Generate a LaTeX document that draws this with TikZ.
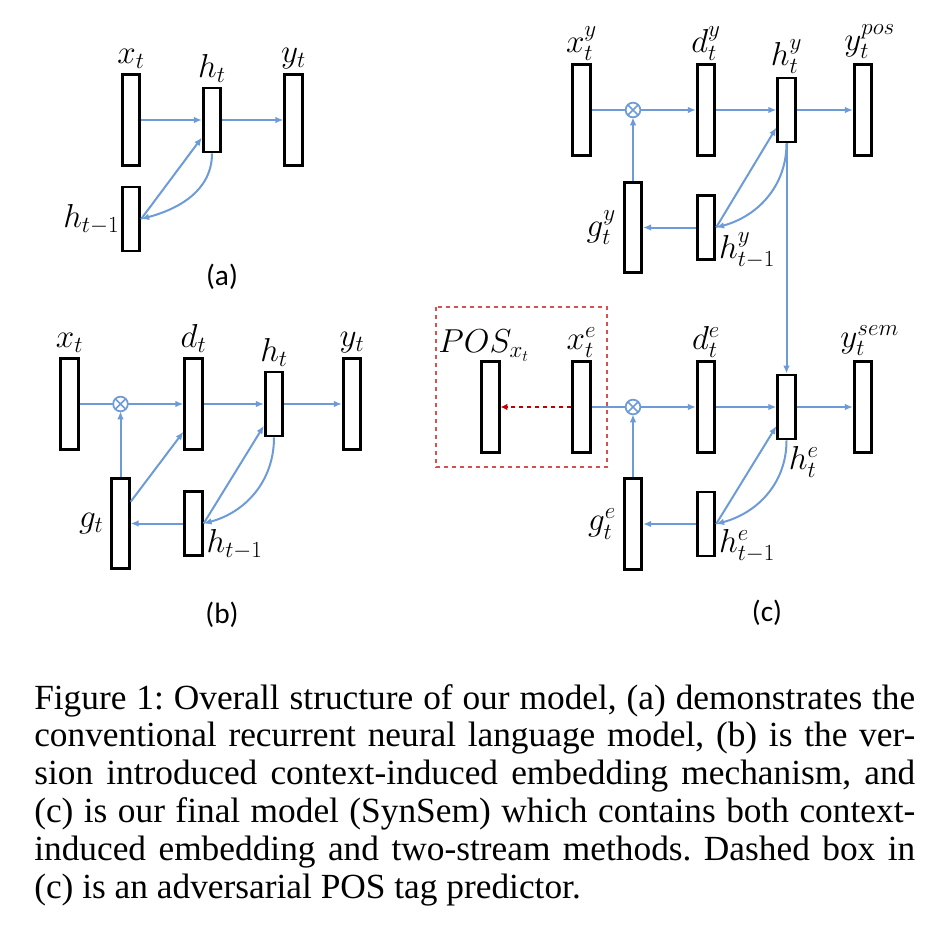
\documentclass[tikz,border=0pt]{standalone}
\usepackage{fontspec}
\usepackage{amsmath}
\usepackage{xcolor}
\usetikzlibrary{arrows.meta}
\usetikzlibrary{positioning}
\newfontfamily\capfont{Liberation Serif}
\newfontfamily\subfont{Carlito}
\definecolor{flow}{RGB}{108,155,215}
\definecolor{advred}{RGB}{192,0,0}
\definecolor{boxred}{RGB}{214,80,80}
\tikzset{
  vec/.style={draw, line width=2.2pt, minimum width=13pt, minimum height=68pt, inner sep=0pt},
  hid/.style={vec, minimum height=48pt},
  mul/.style={draw=flow, line width=1.3pt, circle, minimum size=11pt, inner sep=0pt, outer sep=0pt,
    path picture={\draw[flow, line width=1.1pt] (path picture bounding box.north west) -- (path picture bounding box.south east)
      (path picture bounding box.north east) -- (path picture bounding box.south west);}},
  link/.style={flow, line width=1.5pt, -{Latex[length=6pt,width=5pt]}},
  wire/.style={flow, line width=1.5pt},
  lbl/.style={font=\fontsize{24}{28}\selectfont, inner sep=1pt},
  sub/.style={font=\subfont\fontsize{22}{26}\selectfont}
}

\begin{document}
\begin{tikzpicture}[x=0.75pt, y=-0.75pt]
  \useasboundingbox (0,0) rectangle (944,934);

  \node[vec] (ax) at (131,120) {};
  \node[hid] (ah) at (212,120) {};
  \node[vec] (ay) at (293.5,120) {};
  \node[hid] (ahp) at (131,219) {};
  \node[lbl, above=2pt of ax] (axl) {$x_t$};
  \node[lbl, above=2pt of ah] (ahl) {$h_t$};
  \node[lbl, above=2pt of ay] (ayl) {$y_t$};
  \node[lbl, left=0pt of ahp] (ahpl) {$h_{t-1}$};
  \node[sub] (acap) at (222,277) {(a)};
  \draw[link] (ax) -- (ah);
  \draw[link] (ah) -- (ay);
  \draw[link] (ahp.east) -- (ah.240);
  \draw[link] (ah.south) to[out=-90, in=15] (ahp.east);

  \node[vec] (bx) at (69.5,404) {};
  \node[mul] (bm) at (120.5,404) {};
  \node[vec] (bd) at (193.5,404) {};
  \node[hid] (bh) at (274,404) {};
  \node[vec] (by) at (352,404) {};
  \node[vec] (bg) at (120.5,523.5) {};
  \node[hid] (bhp) at (193.5,523.5) {};
  \node[lbl, above=2pt of bx] (bxl) {$x_t$};
  \node[lbl, above=2pt of bd] (bdl) {$d_t$};
  \node[lbl, above=2pt of bh] (bhl) {$h_t$};
  \node[lbl, above=2pt of by] (byl) {$y_t$};
  \node[lbl, left=4pt of bg] (bgl) {$g_t$};
  \node[lbl, anchor=south west, xshift=1pt, yshift=-3pt] (bhpl) at (bhp.south east) {$h_{t-1}$};
  \node[sub] (bcap) at (222,615) {(b)};
  \draw[wire] (bx) -- (bm);
  \draw[link] (bm) -- (bd);
  \draw[link] (bd) -- (bh);
  \draw[link] (bh) -- (by);
  \draw[link] (bg) -- (bm);
  \draw[link] (bg.65) -- (bd.250);
  \draw[link] (bhp) -- (bg);
  \draw[link] (bhp.east) -- (bh.245);
  \draw[link] (bh.south) to[out=-90, in=15] (bhp.east);

  \node[vec] (cxy) at (581.5,110) {};
  \node[mul] (cmy) at (633,110) {};
  \node[vec] (cdy) at (706,110) {};
  \node[hid] (chy) at (786.5,110) {};
  \node[vec] (cyp) at (863,110) {};
  \node[vec] (cgy) at (633,227.5) {};
  \node[hid] (chpy) at (706,227.5) {};
  \node[lbl, above=1pt of cxy] (cxyl) {$x_t^y$};
  \node[lbl, above=1pt of cdy] (cdyl) {$d_t^y$};
  \node[lbl, above=1pt of chy] (chyl) {$h_t^y$};
  \node[lbl, above=2pt of cyp, xshift=5pt] (cypl) {$y_t^{pos}$};
  \node[lbl, left=4pt of cgy] (cgyl) {$g_t^y$};
  \node[lbl, anchor=south west, xshift=1pt, yshift=-7pt] (chpyl) at (chpy.south east) {$h_{t-1}^y$};

  \node[vec] (cpos) at (490.5,407) {};
  \node[vec] (cxe) at (581.5,407) {};
  \node[mul] (cme) at (633,407) {};
  \node[vec] (cde) at (706,407) {};
  \node[hid] (che) at (786.5,407) {};
  \node[vec] (cys) at (863,407) {};
  \node[vec] (cge) at (633,524) {};
  \node[hid] (chpe) at (706,524) {};
  \node[lbl, above=-2pt of cpos, xshift=-5pt] (cposl) {$POS_{x_t}$};
  \node[lbl, above=1pt of cxe] (cxel) {$x_t^e$};
  \node[lbl, above=1pt of cde] (cdel) {$d_t^e$};
  \node[lbl, above=2pt of cys, xshift=5pt] (cysl) {$y_t^{sem}$};
  \node[lbl, anchor=north west, xshift=-7pt, yshift=-3pt] (chel) at (che.south east) {$h_t^e$};
  \node[lbl, left=4pt of cge] (cgel) {$g_t^e$};
  \node[lbl, anchor=south west, xshift=1pt, yshift=-5pt] (chpel) at (chpe.south east) {$h_{t-1}^e$};
  \node[sub] (ccap) at (767,613) {(c)};

  \draw[boxred, dashed, line width=1pt] (436,307) rectangle (607,467);
  \draw[advred, dashed, line width=2pt, -{Latex[length=5pt,width=5pt]}] (cxe) -- (cpos);

  \draw[wire] (cxy) -- (cmy);
  \draw[link] (cmy) -- (cdy);
  \draw[link] (cdy) -- (chy);
  \draw[link] (chy) -- (cyp);
  \draw[link] (cgy) -- (cmy);
  \draw[link] (chpy) -- (cgy);
  \draw[link] (chpy.east) -- (chy.240);
  \draw[link] (chy.south) to[out=-90, in=15] (chpy.east);
  \draw[link] (chy.south) -- (che.north);

  \draw[wire] (cxe) -- (cme);
  \draw[link] (cme) -- (cde);
  \draw[link] (cde) -- (che);
  \draw[link] (che) -- (cys);
  \draw[link] (cge) -- (cme);
  \draw[link] (chpe) -- (cge);
  \draw[link] (chpe.east) -- (che.242);
  \draw[link] (che.south) to[out=-90, in=15] (chpe.east);

  \node[anchor=base west, inner sep=0pt] (caption) at (34,709) {\capfont\fontsize{26.5}{28.35}\selectfont\frenchspacing
    \parbox[t]{660.75pt}{%
    \makebox[\linewidth][s]{Figure 1: Overall structure of our model, (a) demonstrates the}\\
    \makebox[\linewidth][s]{conventional recurrent neural language model, (b) is the ver-}\\
    \makebox[\linewidth][s]{sion introduced context-induced embedding mechanism, and}\\
    \makebox[\linewidth][s]{(c) is our final model (SynSem) which contains both context-}\\
    \makebox[\linewidth][s]{induced embedding and two-stream methods. Dashed box in}\\
    (c) is an adversarial POS tag predictor.}};
\end{tikzpicture}
\end{document}
